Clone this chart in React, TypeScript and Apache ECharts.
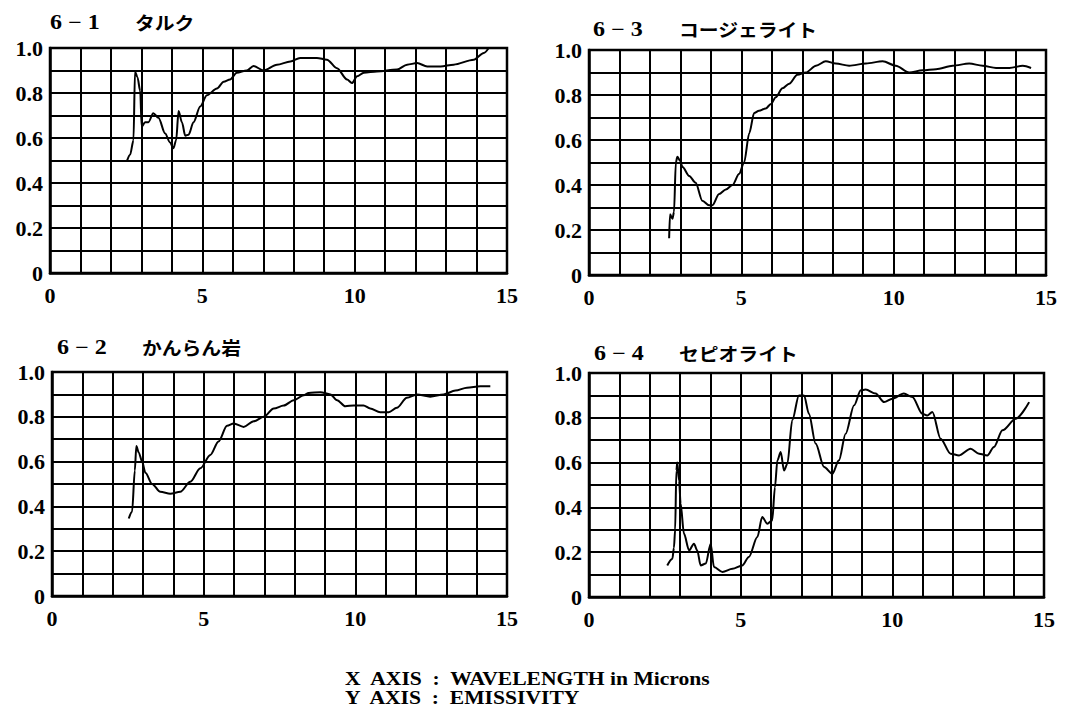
import React, { useEffect, useRef } from 'react';
import * as echarts from 'echarts';

const panelNumbers = ['6 − 1', '6 − 3', '6 − 2', '6 − 4'];
const panelNames = ['タルク', 'コージェライト', 'かんらん岩', 'セピオライト'];
const xTickValues = [0, 5, 10, 15];
const xTickLabels = ['0', '5', '10', '15'];
const yTickValues = [0, 0.2, 0.4, 0.6, 0.8, 1.0];
const yTickLabels = ['0', '0.2', '0.4', '0.6', '0.8', '1.0'];
const axisNotes = ['X  AXIS  :  WAVELENGTH in Microns', 'Y  AXIS  :  EMISSIVITY'];

// 6-1 タルク
const talcData: [number, number][] = [
  [2.52, 0.496], [2.63, 0.526], [2.74, 0.59], [2.79, 0.896], [2.87, 0.87], [2.96, 0.81],
  [3.01, 0.65], [3.12, 0.67], [3.23, 0.67], [3.39, 0.71], [3.56, 0.69], [3.78, 0.62],
  [3.94, 0.58], [4.05, 0.555], [4.14, 0.59], [4.22, 0.72], [4.33, 0.67], [4.44, 0.61],
  [4.55, 0.615], [4.71, 0.67], [4.93, 0.74], [5.15, 0.79], [5.48, 0.82], [5.7, 0.85],
  [5.91, 0.86], [6.13, 0.89], [6.46, 0.9], [6.68, 0.92], [7.01, 0.9], [7.45, 0.926],
  [7.89, 0.94], [8.21, 0.956], [8.76, 0.956], [9.09, 0.948], [9.42, 0.91], [9.75, 0.86],
  [9.91, 0.844], [10.08, 0.874], [10.3, 0.89], [10.73, 0.896], [11.39, 0.904], [11.72, 0.926],
  [12.05, 0.933], [12.38, 0.918], [12.82, 0.918], [13.25, 0.926], [13.91, 0.948], [14.24, 0.978],
  [14.4, 1.0],
];

// 6-3 コージェライト
const cordieriteData: [number, number][] = [
  [2.63, 0.163], [2.66, 0.27], [2.74, 0.25], [2.79, 0.28], [2.85, 0.5], [2.9, 0.526],
  [2.98, 0.51], [3.07, 0.48], [3.29, 0.44], [3.5, 0.41], [3.72, 0.33], [3.94, 0.31],
  [4.05, 0.31], [4.27, 0.36], [4.49, 0.38], [4.71, 0.4], [4.93, 0.45], [5.09, 0.5],
  [5.26, 0.63], [5.42, 0.72], [5.58, 0.73], [5.8, 0.74], [5.97, 0.76], [6.13, 0.79],
  [6.35, 0.83], [6.57, 0.85], [6.84, 0.89], [7.12, 0.9], [7.45, 0.93], [7.77, 0.95],
  [8.1, 0.94], [8.54, 0.93], [9.09, 0.94], [9.64, 0.95], [10.07, 0.93], [10.51, 0.9],
  [10.95, 0.91], [11.39, 0.915], [11.94, 0.93], [12.48, 0.94], [12.92, 0.93], [13.36, 0.92],
  [13.8, 0.92], [14.24, 0.93], [14.51, 0.92],
];

// 6-2 かんらん岩
const peridotiteData: [number, number][] = [
  [2.53, 0.346], [2.64, 0.376], [2.73, 0.56], [2.78, 0.67], [2.86, 0.64], [2.97, 0.6],
  [3.08, 0.55], [3.3, 0.5], [3.57, 0.465], [3.9, 0.457], [4.23, 0.465], [4.56, 0.51],
  [4.89, 0.57], [5.22, 0.63], [5.49, 0.69], [5.77, 0.76], [5.99, 0.77], [6.32, 0.755],
  [6.65, 0.78], [6.98, 0.8], [7.31, 0.837], [7.64, 0.85], [7.97, 0.874], [8.3, 0.896],
  [8.46, 0.906], [8.85, 0.91], [9.18, 0.9], [9.4, 0.874], [9.67, 0.847], [9.95, 0.851],
  [10.27, 0.851], [10.49, 0.837], [10.82, 0.82], [11.1, 0.82], [11.37, 0.84], [11.7, 0.885],
  [12.03, 0.9], [12.47, 0.89], [12.91, 0.9], [13.3, 0.917], [13.68, 0.93], [14.12, 0.936],
  [14.45, 0.936],
];

// 6-4 セピオライト
const sepioliteData: [number, number][] = [
  [2.58, 0.141], [2.75, 0.171], [2.8, 0.22], [2.84, 0.3], [2.88, 0.565], [2.91, 0.6],
  [2.97, 0.52], [3.02, 0.417], [3.13, 0.283], [3.3, 0.208], [3.46, 0.238], [3.57, 0.208],
  [3.68, 0.141], [3.85, 0.149], [4.01, 0.238], [4.12, 0.134], [4.4, 0.112], [4.73, 0.126],
  [5.05, 0.141], [5.27, 0.179], [5.55, 0.268], [5.71, 0.357], [5.88, 0.327], [6.04, 0.342],
  [6.13, 0.49], [6.21, 0.61], [6.32, 0.647], [6.43, 0.565], [6.54, 0.595], [6.7, 0.789],
  [6.92, 0.9], [7.09, 0.9], [7.25, 0.818], [7.47, 0.685], [7.75, 0.58], [8.02, 0.55],
  [8.24, 0.61], [8.46, 0.729], [8.74, 0.856], [8.96, 0.923], [9.12, 0.926], [9.45, 0.908],
  [9.73, 0.87], [10.0, 0.885], [10.38, 0.908], [10.66, 0.893], [10.99, 0.818], [11.15, 0.81],
  [11.32, 0.826], [11.59, 0.707], [11.92, 0.64], [12.2, 0.632], [12.58, 0.662], [12.86, 0.64],
  [13.13, 0.632], [13.35, 0.67], [13.63, 0.744], [14.07, 0.796], [14.51, 0.87],
];

const panelData = [talcData, cordieriteData, peridotiteData, sepioliteData];

const SERIF = 'Liberation Serif, DejaVu Serif, serif';
const CJK = 'Noto Sans CJK JP, Noto Sans, sans-serif';

const grids = [
  { left: 50, top: 48, width: 457, height: 225 },
  { left: 589, top: 50, width: 457, height: 225 },
  { left: 52, top: 372, width: 455, height: 224 },
  { left: 589, top: 373, width: 455, height: 224 },
];

const titlePos = [
  { nx: 50, jx: 135, y: 22 },
  { nx: 593, jx: 679, y: 29 },
  { nx: 57, jx: 142, y: 347 },
  { nx: 594, jx: 679, y: 353 },
];

function findLabel(values: number[], labels: string[], v: number) {
  for (let i = 0; i < values.length; i++) {
    if (Math.abs(values[i] - v) < 1e-6) return labels[i];
  }
  return '';
}

const labelFont = { color: '#000', fontFamily: SERIF, fontWeight: 'bold', fontSize: 22 };

export default function App() {
  const ref = useRef<HTMLDivElement>(null);
  useEffect(() => {
    if (!ref.current) return;
    const chart = echarts.init(ref.current, null, { renderer: 'svg' });
    const graphic: any[] = [];
    titlePos.forEach((p, i) => {
      graphic.push({
        type: 'text', x: p.nx, y: p.y, scaleX: 1.2,
        style: { text: panelNumbers[i], fontFamily: SERIF, fontWeight: 'bold', fontSize: 20, fill: '#000', verticalAlign: 'middle' },
      });
      graphic.push({
        type: 'text', x: p.jx, y: p.y, scaleX: 1.1,
        style: { text: panelNames[i], fontFamily: CJK, fontWeight: 'bold', fontSize: 18, fill: '#000', verticalAlign: 'middle' },
      });
    });
    axisNotes.forEach((t, i) => {
      graphic.push({
        type: 'text', x: 345, y: 679 + i * 19, scaleX: 1.2,
        style: { text: t, fontFamily: SERIF, fontWeight: 'bold', fontSize: 18, fill: '#000', verticalAlign: 'middle' },
      });
    });

    const option: any = {
      animation: false,
      backgroundColor: '#fff',
      textStyle: { fontFamily: SERIF, fontWeight: 'bold', fontSize: 22, color: '#000' },
      grid: grids.map((g) => ({ ...g, show: true, borderColor: '#000', borderWidth: 2.5, backgroundColor: 'transparent', containLabel: false })),
      xAxis: grids.map((_, i) => ({
        type: 'value', gridIndex: i, min: 0, max: 15, interval: 1,
        axisLine: { show: true, lineStyle: { color: '#000', width: 2.5 } },
        axisTick: { show: false },
        splitLine: { show: true, lineStyle: { color: '#000', width: 2 } },
        axisLabel: {
          show: true, margin: 11, ...labelFont, textStyle: labelFont,
          formatter: (v: number) => findLabel(xTickValues, xTickLabels, v),
        },
      })),
      yAxis: grids.map((_, i) => ({
        type: 'value', gridIndex: i, min: 0, max: 1, interval: 0.1,
        axisLine: { show: true, lineStyle: { color: '#000', width: 2.5 } },
        axisTick: { show: false },
        splitLine: { show: true, lineStyle: { color: '#000', width: 2 } },
        axisLabel: {
          show: true, margin: 7, ...labelFont, textStyle: labelFont,
          formatter: (v: number) => findLabel(yTickValues, yTickLabels, v),
        },
      })),
      series: panelData.map((d, i) => ({
        type: 'line', xAxisIndex: i, yAxisIndex: i, data: d,
        showSymbol: false, smooth: 0.3, smoothMonotone: 'x',
        lineStyle: { color: '#000', width: 2 },
      })),
      graphic,
    };
    chart.setOption(option);
    return () => chart.dispose();
  }, []);
  return <div ref={ref} style={{ position: 'fixed', left: 0, top: 0, width: 1076, height: 723, background: '#fff' }} />;
}
